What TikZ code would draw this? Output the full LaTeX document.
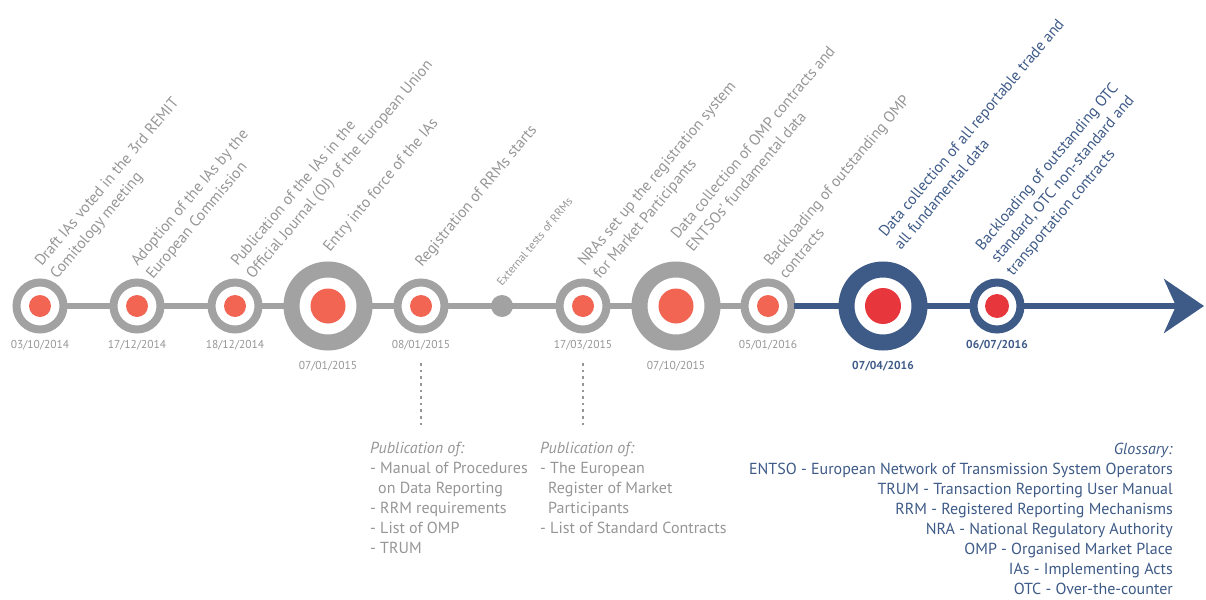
\documentclass[tikz,border=0pt]{standalone}
\usepackage{fontspec}
\setmainfont{PT Sans}
\usetikzlibrary{arrows.meta,positioning}
\definecolor{ringgrey}{HTML}{A2A2A2}
\definecolor{textgrey}{HTML}{969696}
\definecolor{dotred}{HTML}{F26553}
\definecolor{hotred}{HTML}{E8363D}
\definecolor{lineblue}{HTML}{3E5A87}
\begin{document}
\begin{tikzpicture}[x=1pt,y=-1pt,
    ring/.style={circle,draw=ringgrey,line width=8pt,fill=white,minimum size=47pt,inner sep=0pt},
    bigring/.style={ring,line width=16pt,minimum size=73pt},
    bluering/.style={ring,draw=lineblue},
    bigbluering/.style={bigring,draw=lineblue},
    reddot/.style={circle,fill=dotred,inner sep=0pt,minimum size=#1},
    hotdot/.style={reddot=#1,fill=hotred},
    event/.style={rotate=50,anchor=base west,align=left,inner sep=0pt,text=textgrey,font=\fontsize{15.5}{20}\selectfont},
    date/.style={text=textgrey,inner sep=0pt,font=\fontsize{11.5}{14}\selectfont},
    bluedate/.style={date,text=lineblue,font=\fontsize{11.5}{14}\selectfont\bfseries},
    pubtext/.style={anchor=base west,align=left,inner sep=0pt,text=textgrey,font=\fontsize{16}{20}\selectfont},
    gloss/.style={anchor=base east,align=right,inner sep=0pt,text=lineblue,font=\fontsize{16}{20}\selectfont},
    greyline/.style={draw=ringgrey,line width=6pt,shorten <=-2pt,shorten >=-2pt},
    blueline/.style={draw=lineblue,line width=6pt,shorten <=-2pt,shorten >=-2pt},
    pubdots/.style={draw=textgrey,line width=2.6pt,dash pattern=on 2.6pt off 4pt}]
    \newcommand{\tly}{306}
    \useasboundingbox (0,0) rectangle (1206,599);

    \node[ring] (c1) at (40,\tly) {};
    \node[ring] (c2) at (137,\tly) {};
    \node[ring] (c3) at (235,\tly) {};
    \node[bigring] (c4) at (328,\tly) {};
    \node[ring] (c5) at (421,\tly) {};
    \node[circle,fill=ringgrey,inner sep=0pt,minimum size=22pt] (ext) at (502,\tly) {};
    \node[ring] (c6) at (583,\tly) {};
    \node[bigring] (c7) at (676,\tly) {};
    \node[ring] (c8) at (768,\tly) {};
    \node[bigbluering] (c9) at (883,\tly) {};
    \node[bluering] (c10) at (997,\tly) {};
    \coordinate (tip) at (1204,\tly);

    \foreach \c in {c1,c2,c3,c5,c6,c8}
        \node[reddot=22pt] (\c dot) at (\c) {};
    \node[reddot=35pt] (c4dot) at (c4) {};
    \node[reddot=35pt] (c7dot) at (c7) {};
    \node[hotdot=36pt] (c9dot) at (c9) {};
    \node[hotdot=24pt] (c10dot) at (c10) {};

    \foreach \a/\b in {c1/c2,c2/c3,c3/c4,c4/c5,c5/ext,ext/c6,c6/c7,c7/c8}
        \draw[greyline] (\a) -- (\b);
    \draw[blueline] (c8) -- (c9);
    \draw[blueline] (c9) -- (c10);
    \draw[blueline,shorten >=0pt,-{Stealth[length=40pt,width=54pt,inset=12pt]}] (c10) -- (tip);

    \node[date] (d1) at (40,345) {03/10/2014};
    \node[date] (d2) at (137,345) {17/12/2014};
    \node[date] (d3) at (235,345) {18/12/2014};
    \node[date] (d4) at (328,366) {07/01/2015};
    \node[date] (d5) at (421,345) {08/01/2015};
    \node[date] (d6) at (583,345) {17/03/2015};
    \node[date] (d7) at (676,366) {07/10/2015};
    \node[date] (d8) at (768,345) {05/01/2016};
    \node[bluedate] (d9) at (883,366) {07/04/2016};
    \node[bluedate] (d10) at (997,345) {06/07/2016};

    \node[event] (t1) at (57,280) {Draft IAs voted in the 3rd REMIT\\Comitology meeting};
    \node[event] (t2) at (153,280) {Adoption of the IAs by the\\European Commission};
    \node[event] (t3) at (253,280) {Publication of the IAs in the\\Official Journal (OJ) of the European Union};
    \node[event] (t4) at (330,253) {Entry into force of the IAs};
    \node[event] (t5) at (422,268) {Registration of RRMs starts};
    \node[event,font=\fontsize{11.5}{14}\selectfont] (t6) at (502,287) {External tests of RRMs};
    \node[event] (t7) at (600,280) {NRAs set up the registration system\\for Market Participants};
    \node[event] (t8) at (693,253) {Data collection of OMP contracts and\\ENTSOs' fundamental data};
    \node[event] (t9) at (786,280) {Backloading of outstanding OMP\\contracts};
    \node[event,text=lineblue] (t10) at (901,251) {Data collection of all reportable trade and\\all fundamental data};
    \node[event,text=lineblue] (t11) at (1013,277) {Backloading of outstanding OTC\\standard, OTC non-standard and\\transportation contracts};

    \node[pubtext] (pub1) at (370,553) {\textit{Publication of:}\\- Manual of Procedures\\\hspace*{8pt}on Data Reporting\\- RRM requirements\\- List of OMP\\- TRUM};
    \node[pubtext] (pub2) at (540,533) {\textit{Publication of:}\\- The European\\\hspace*{8pt}Register of Market\\\hspace*{8pt}Participants\\- List of Standard Contracts};
    \draw[pubdots] ([yshift=-13pt]d5.south) -- ([yshift=15pt]d5.south |- pub1.north);
    \draw[pubdots] ([yshift=-13pt]d6.south) -- ([yshift=15pt]d6.south |- pub2.north);

    \node[gloss] (glossary) at (1173,594) {\textit{Glossary:}\\ENTSO - European Network of Transmission System Operators\\TRUM - Transaction Reporting User Manual\\RRM - Registered Reporting Mechanisms\\NRA - National Regulatory Authority\\OMP - Organised Market Place\\IAs - Implementing Acts\\OTC - Over-the-counter};
\end{tikzpicture}
\end{document}
